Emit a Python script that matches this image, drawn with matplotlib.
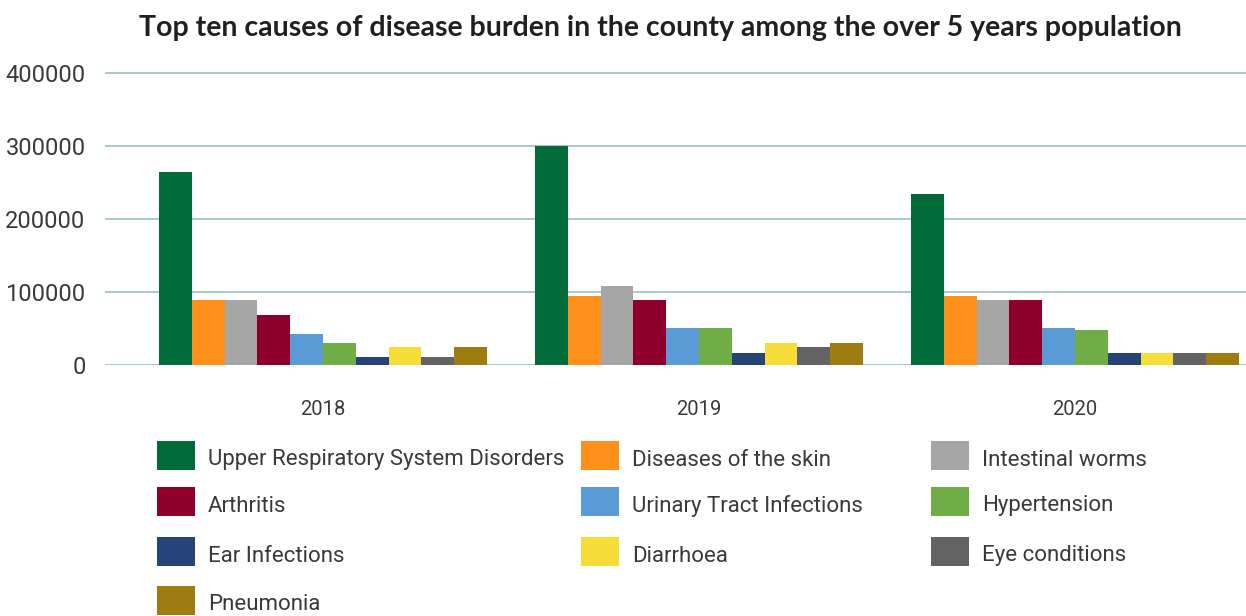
import matplotlib.pyplot as plt
import numpy as np
from matplotlib.patches import Rectangle

years = ["2018", "2019", "2020"]
causes = [
    "Upper Respiratory System Disorders",
    "Diseases of the skin",
    "Intestinal worms",
    "Arthritis",
    "Urinary Tract Infections",
    "Hypertension",
    "Ear Infections",
    "Diarrhoea",
    "Eye conditions",
    "Pneumonia",
]
# cases per year, one list per cause (2018, 2019, 2020)
upper_resp = [265000, 300000, 234000]
skin = [89000, 94500, 94500]
worms = [89000, 108000, 89000]
arthritis = [68500, 89000, 89000]
uti = [42500, 50700, 50700]
hypertension = [30000, 50700, 48000]
ear = [11000, 16400, 16400]
diarrhoea = [24700, 30000, 16400]
eye = [11000, 24700, 16400]
pneumonia = [24700, 30000, 16400]
values = [upper_resp, skin, worms, arthritis, uti, hypertension,
          ear, diarrhoea, eye, pneumonia]
yticks = [0, 100000, 200000, 300000, 400000]

colors = ["#006a39", "#fd901a", "#a6a6a6", "#8c002b", "#5b9bd5",
          "#70ad47", "#264478", "#f6dd37", "#636363", "#9e7c10"]
GRID = "#a9cbc5"
TXT = "#3a3a3a"
FONT = ["Roboto", "DejaVu Sans"]

W, H = 1246, 616
fig = plt.figure(figsize=(W / 100, H / 100), dpi=100)
ax = fig.add_axes([105 / W, 1 - 365 / H, 1 - 105 / W, (365 - 70) / H])

x = np.arange(len(years))
bw = 0.0872
for i, (vals, c) in enumerate(zip(values, colors)):
    ax.bar(x + (i - 4.5) * bw, vals, width=bw, color=c, linewidth=0, zorder=3)

ax.set_xlim(-0.58, 2.455)
ax.set_ylim(0, 400000 * 295 / 292)
ax.set_yticks(yticks)
ax.set_yticklabels([str(v) for v in yticks], family=FONT, fontsize=17, color=TXT)
ax.set_xticks(x)
ax.set_xticklabels(years, family=FONT, fontsize=14.5, color=TXT)
ax.tick_params(axis="y", length=0, pad=14)
ax.tick_params(axis="x", length=0, pad=25)
for s in ax.spines.values():
    s.set_visible(False)
for v in yticks:
    ax.axhline(v, color=GRID, lw=1.4, zorder=1)

fig.text(660 / W, 1 - 28 / H,
         "Top ten causes of disease burden in the county among the over 5 years population",
         ha="center", va="center", fontsize=20.5, fontweight="bold",
         family=["Lato", "DejaVu Sans"], color="#231f20")

# legend laid out row by row, three columns
col_x = [157, 581, 931]
row_y = [455.5, 501.5, 551.5, 600.5]
for k, (name, c) in enumerate(zip(causes, colors)):
    r, cidx = divmod(k, 3)
    x0, yc = col_x[cidx], row_y[r]
    fig.add_artist(Rectangle((x0 / W, 1 - (yc + 14.5) / H), 38 / W, 29 / H,
                             transform=fig.transFigure, color=c, lw=0))
    fig.text((x0 + 51) / W, 1 - (yc + 4.5) / H, name, ha="left", va="center",
             family=FONT, fontsize=16, color=TXT)

fig.savefig("out.png", dpi=100)
